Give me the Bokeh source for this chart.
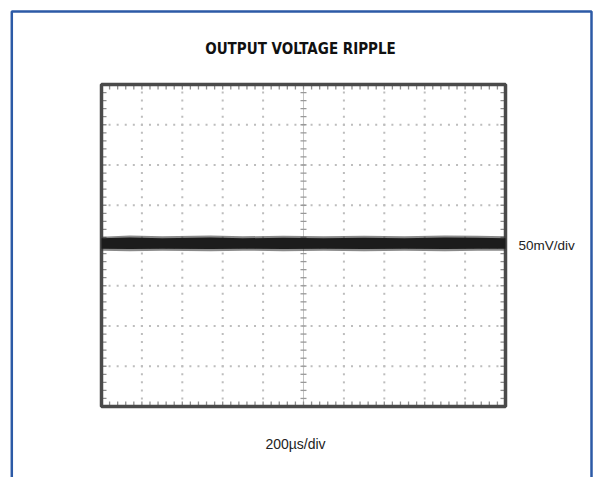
from bokeh.plotting import figure
from bokeh.models import Range1d
from bokeh.core.properties import value
from bokeh.embed import file_html
from bokeh.resources import INLINE
import numpy as np

# ---- data (oscilloscope divisions) ----
title_text = "OUTPUT VOLTAGE RIPPLE"
v_label = "50mV/div"
t_label = "200\u00b5s/div"
x_divs = list(range(0, 11))   # 10 horizontal divisions (200us/div)
y_divs = list(range(0, 9))    # 8 vertical divisions (50mV/div)
# trace envelope (time in div, voltage in div)
trace_t = [0.0, 0.7, 1.5, 2.7, 3.5, 4.5, 5.5, 6.5, 7.5, 8.5, 9.3, 10.0]
trace_hi = [4.22, 4.25, 4.23, 4.25, 4.23, 4.24, 4.23, 4.24, 4.23, 4.25, 4.24, 4.23]
trace_lo = [3.87, 3.86, 3.87, 3.86, 3.87, 3.86, 3.87, 3.86, 3.87, 3.86, 3.87, 3.87]
core_hi = [4.18, 4.20, 4.18, 4.20, 4.18, 4.19, 4.18, 4.19, 4.18, 4.20, 4.19, 4.18]
core_lo = [3.92, 3.91, 3.92, 3.91, 3.92, 3.91, 3.92, 3.91, 3.92, 3.91, 3.92, 3.92]

# pixel geometry of the page (scope grid occupies 101..505 x 84..406)
PX_L, PX_R, PX_T, PX_B = 101, 505, 84, 406
W, H = 593, 477
dx = (PX_R - PX_L) / (x_divs[-1] - x_divs[0])
dy = (PX_B - PX_T) / (y_divs[-1] - y_divs[0])
x0 = x_divs[0] - PX_L / dx
x1 = x_divs[0] + (W - PX_L) / dx
y1 = y_divs[-1] + PX_T / dy
y0 = y_divs[0] - (H - PX_B) / dy

p = figure(width=W, height=H, output_backend="svg", toolbar_location=None,
           x_axis_type=None, y_axis_type=None,
           x_range=Range1d(x0, x1), y_range=Range1d(y0, y1),
           min_border=0)
p.xgrid.visible = False
p.ygrid.visible = False
p.outline_line_color = None
p.background_fill_color = "white"
p.border_fill_color = "white"

def px2x(px):
    return x_divs[0] + (px - PX_L) / dx

def px2y(py):
    return y_divs[-1] - (py - PX_T) / dy

minor_x = np.linspace(x_divs[0], x_divs[-1], 5 * (len(x_divs) - 1) + 1)
minor_y = np.linspace(y_divs[0], y_divs[-1], 5 * (len(y_divs) - 1) + 1)
xc = (x_divs[0] + x_divs[-1]) / 2
yc = (y_divs[0] + y_divs[-1]) / 2

# dotted graticule (dots at every minor step along each major line)
gx, gy = [], []
for xv in x_divs[1:-1]:
    if xv == xc:
        continue
    gx += [xv] * len(minor_y)
    gy += list(minor_y)
for yv in y_divs[1:-1]:
    if yv == yc:
        continue
    gx += list(minor_x)
    gy += [yv] * len(minor_x)
p.scatter(x=gx, y=gy, marker="square", size=2, line_color=None,
          fill_color="#bdbdbd")

# centre cross-hair with ticks
p.line([xc, xc], [y_divs[0], y_divs[-1]], line_color="#c4c4c4", line_width=1)
p.line([x_divs[0], x_divs[-1]], [yc, yc], line_color="#c4c4c4", line_width=1)
p.scatter(x=[xc] * len(minor_y), y=minor_y, marker="dash", size=6,
          line_color="#999999", line_width=1.3)
p.scatter(x=minor_x, y=[yc] * len(minor_x), marker="dash", angle=np.pi / 2, size=6,
          line_color="#999999", line_width=1.3)

# edge ticks pointing inward
off_x = 2.5 / dx
off_y = 2.5 / dy
for xv, s in ((x_divs[0], 1), (x_divs[-1], -1)):
    p.scatter(x=[xv + s * off_x] * len(minor_y), y=minor_y, marker="dash", size=5,
              line_color="#8e8e8e", line_width=1.3)
for yv, s in ((y_divs[0], 1), (y_divs[-1], -1)):
    p.scatter(x=minor_x, y=[yv + s * off_y] * len(minor_x), marker="dash",
              angle=np.pi / 2, size=5, line_color="#8e8e8e", line_width=1.3)

# scope frame
p.quad(left=[x_divs[0]], right=[x_divs[-1]], bottom=[y_divs[0]], top=[y_divs[-1]],
       fill_alpha=0, line_color="#4a4a4a", line_width=3.5)

# trace
p.varea(x=trace_t, y1=trace_lo, y2=trace_hi, fill_color="#3a3a3a", fill_alpha=0.6)
p.varea(x=trace_t, y1=core_lo, y2=core_hi, fill_color="#1c1c1c", fill_alpha=1.0)

# outer blue frame (left, top, right edges; bottom is off the page)
p.line([px2x(11.3), px2x(11.3), px2x(591), px2x(591)],
       [y0 - 1, px2y(11), px2y(11), y0 - 1],
       line_color="#2c5aa6", line_width=2.5)

# texts
p.text(x=[px2x(300)], y=[px2y(48.5)], text=[title_text],
       text_font=value("DejaVu Sans Condensed"),
       text_font_style="bold", text_font_size="15px", text_align="center",
       text_baseline="middle", text_color="#111111")
p.text(x=[px2x(518)], y=[px2y(245)], text=[v_label], text_font=value("Liberation Sans"),
       text_font_size="13.5px", text_align="left",
       text_baseline="middle", text_color="#222222")
p.text(x=[px2x(295)], y=[px2y(443)], text=[t_label], text_font=value("Liberation Sans"),
       text_font_size="14px", text_align="center",
       text_baseline="middle", text_color="#222222")

open("out.html", "w").write(file_html(p, INLINE))
